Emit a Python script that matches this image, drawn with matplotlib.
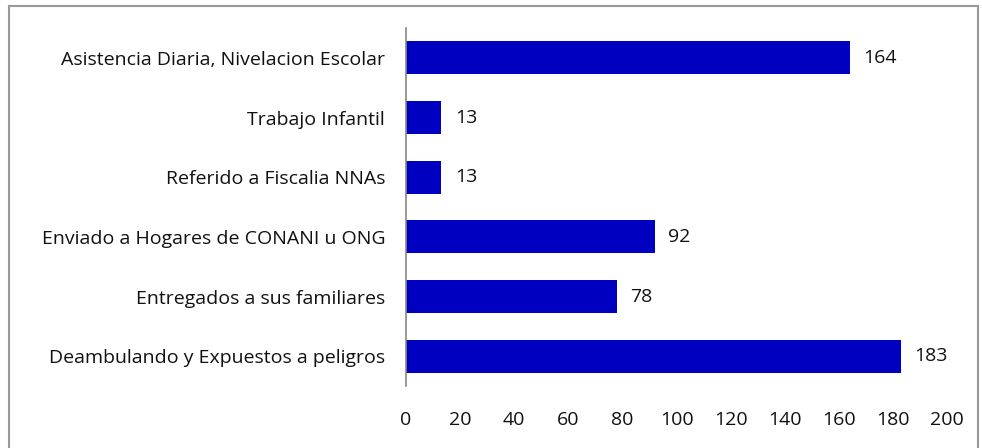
import matplotlib.pyplot as plt
from matplotlib.patches import Rectangle

categories = ['Asistencia Diaria, Nivelacion Escolar', 'Trabajo Infantil',
              'Referido a Fiscalia NNAs', 'Enviado a Hogares de CONANI u ONG',
              'Entregados a sus familiares', 'Deambulando y Expuestos a peligros']
values = [164, 13, 13, 92, 78, 183]
xticks = [0, 20, 40, 60, 80, 100, 120, 140, 160, 180, 200]

plt.rcParams['font.family'] = ['Open Sans', 'DejaVu Sans']

fig = plt.figure(figsize=(9.82, 4.48), dpi=100)
ax = fig.add_axes([406/982, 1 - 386/448, (947 - 406)/982, (386 - 28)/448])

ypos = list(range(len(categories)))
bars = ax.barh(ypos, values, height=0.55, color='#0000C0')
for b, v in zip(bars, values):
    ax.text(v + 5, b.get_y() + b.get_height()/2, str(v), va='center', ha='left',
            fontsize=14, color='#111111')

ax.set_xlim(0, 200)
ax.set_ylim(len(categories) - 0.5, -0.5)
ax.set_yticks(ypos)
ax.set_yticklabels(categories, fontsize=14, color='#111111')
ax.set_xticks(xticks)
ax.set_xticklabels([str(t) for t in xticks], fontsize=14, color='#111111')
ax.tick_params(axis='both', length=0)
ax.tick_params(axis='y', pad=15)
ax.tick_params(axis='x', pad=18)
for s in ['top', 'right', 'bottom']:
    ax.spines[s].set_visible(False)
ax.spines['left'].set_color('#888888')
ax.spines['left'].set_linewidth(1.2)

# outer frame
fig.patches.append(Rectangle((9/982, -0.05), (978 - 9)/982, 1.05 - 6/448,
                             transform=fig.transFigure, fill=False,
                             edgecolor='#999999', linewidth=1.5))

fig.savefig('out.png', dpi=100)
